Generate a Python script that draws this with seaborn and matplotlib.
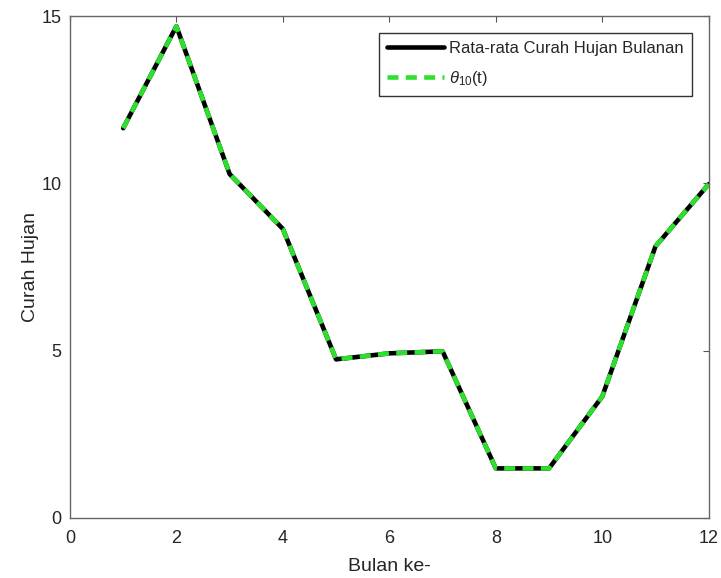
import numpy as np
import pandas as pd
import matplotlib
matplotlib.use("Agg")
import matplotlib.pyplot as plt
import seaborn as sns

bulan = [1, 2, 3, 4, 5, 6, 7, 8, 9, 10, 11, 12]
rata_rata = [11.65, 14.70, 10.28, 8.64, 4.74, 4.92, 4.98, 1.48, 1.48, 3.63, 8.12, 9.98]
theta10 = [11.65, 14.70, 10.28, 8.64, 4.74, 4.92, 4.98, 1.48, 1.48, 3.63, 8.12, 9.98]
xticks = [0, 2, 4, 6, 8, 10, 12]
yticks = [0, 5, 10, 15]

sns.set_style("white")
plt.rcParams['font.family'] = ['Liberation Sans', 'DejaVu Sans']
plt.rcParams['mathtext.fontset'] = 'custom'
plt.rcParams['mathtext.it'] = 'Liberation Sans:italic'
plt.rcParams['mathtext.rm'] = 'Liberation Sans'

df = pd.DataFrame({"bulan": bulan, "rata": rata_rata, "theta": theta10})

fig = plt.figure(figsize=(7.21, 5.78), dpi=100)
ax = fig.add_axes([0.097, 0.104, 0.886, 0.868])

sns.lineplot(data=df, x="bulan", y="rata", ax=ax, color="black", linewidth=3.3,
             label="Rata-rata Curah Hujan Bulanan")
sns.lineplot(data=df, x="bulan", y="theta", ax=ax, color="#2ee02e", linewidth=3.3,
             linestyle=(0, (2.4, 1.6)), label=r"$\theta_{10}$(t)")

ax.set_xlim(0, 12)
ax.set_ylim(0, 15)
ax.set_xticks(xticks)
ax.set_yticks(yticks)
ax.set_xlabel("Bulan ke-", fontsize=14, color="#262626", labelpad=8)
ax.set_ylabel("Curah Hujan", fontsize=14, color="#262626", labelpad=2)
ax.tick_params(axis="both", direction="in", length=4, width=0.8, colors="#555555",
               labelsize=13, labelcolor="#262626", top=True, right=True)
ax.tick_params(axis="x", pad=9)
ax.tick_params(axis="y", pad=6)
for s in ax.spines.values():
    s.set_color("#666666")
    s.set_linewidth(1.0)

leg = ax.legend(loc="upper right", fontsize=12, frameon=True, fancybox=False,
                edgecolor="#333333", framealpha=1, handlelength=3.4,
                handletextpad=0.3, borderaxespad=1.0, labelspacing=0.75,
                borderpad=0.5)
leg.get_frame().set_linewidth(1.0)

fig.savefig("out.png", dpi=100)
